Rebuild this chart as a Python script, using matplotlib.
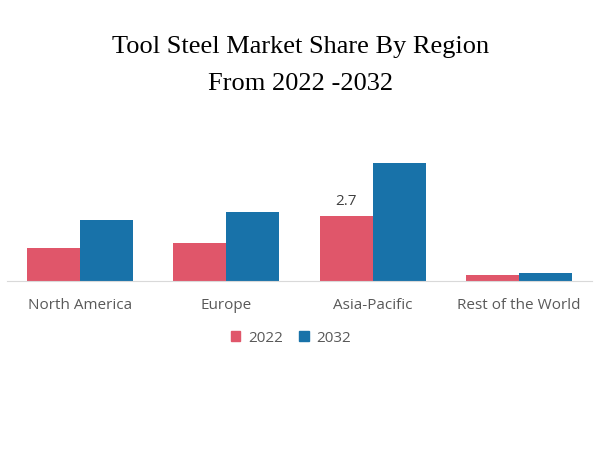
import numpy as np
import matplotlib.pyplot as plt
import matplotlib.patches as mpatches

regions = ['North America', 'Europe', 'Asia-Pacific', 'Rest of the World']
share_2022 = [1.38, 1.57, 2.7, 0.25]
share_2032 = [2.51, 2.85, 4.86, 0.34]
years = ['2022', '2032']

red = '#e0566a'
blue = '#1872a9'
grey = '#595959'

fig = plt.figure(figsize=(6, 4.5), dpi=100)
ax = fig.add_axes([7 / 600, 1 - 281 / 450, 585 / 600, 151 / 450])

x = np.arange(len(regions))
w = 0.363
ax.bar(x - w / 2, share_2022, width=w, color=red)
ax.bar(x + w / 2, share_2032, width=w, color=blue)

ax.text(x[2] - w / 2, share_2022[2] + 0.28, '2.7', ha='center', va='bottom',
        fontsize=11, color='#404040', family='Open Sans')

ax.set_xlim(-0.5, 3.5)
ax.set_ylim(0, 151 / 24.2)
ax.set_yticks([])
ax.set_xticks(x)
ax.set_xticklabels(regions, fontsize=11, color=grey, family='Open Sans')
ax.tick_params(axis='x', length=0, pad=12)
for s in ['top', 'right', 'left']:
    ax.spines[s].set_visible(False)
ax.spines['bottom'].set_color('#d9d9d9')

handles = [mpatches.Patch(color=red, label=years[0]),
           mpatches.Patch(color=blue, label=years[1])]
fig.legend(handles=handles, loc='center', bbox_to_anchor=(291 / 600, 1 - 338 / 450),
           ncol=2, frameon=False, handlelength=0.6, handleheight=0.6,
           handletextpad=0.5, columnspacing=1.1,
           prop={'family': 'Open Sans', 'size': 11})
for t in fig.legends[0].get_texts():
    t.set_color(grey)

fig.text(301 / 600, 1 - 47 / 450, 'Tool Steel Market Share By Region', ha='center',
         va='center', fontsize=19, family='Liberation Serif', color='black')
fig.text(301 / 600, 1 - 84 / 450, 'From 2022 -2032', ha='center',
         va='center', fontsize=19, family='Liberation Serif', color='black')

fig.savefig('out.png', dpi=100)
